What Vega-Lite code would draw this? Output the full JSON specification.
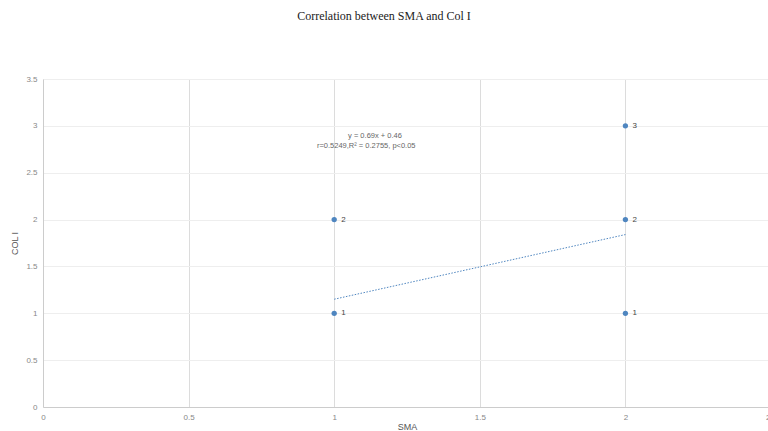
{
  "$schema": "https://vega.github.io/schema/vega-lite/v6.json",
  "autosize": "none",
  "width": 728,
  "height": 328,
  "padding": {"left": 43, "top": 79, "right": 0, "bottom": 24},
  "background": "white",
  "title": {
    "text": "Correlation between SMA and Col I",
    "font": "Liberation Serif",
    "fontSize": 12,
    "fontWeight": "normal",
    "color": "#222",
    "anchor": "middle",
    "dx": -23,
    "offset": 52
  },
  "config": {
    "view": {"stroke": null},
    "axis": {
      "labelFont": "Liberation Sans",
      "labelFontSize": 8,
      "labelColor": "#888",
      "titleFont": "Liberation Sans",
      "titleFontSize": 9,
      "titleFontWeight": "normal",
      "titleColor": "#555",
      "domainColor": "#ccc",
      "ticks": false,
      "format": "~g"
    }
  },
  "datasets": {
    "points": [
      {"sma": 1, "col": 1, "label": "1"},
      {"sma": 1, "col": 2, "label": "2"},
      {"sma": 2, "col": 1, "label": "1"},
      {"sma": 2, "col": 2, "label": "2"},
      {"sma": 2, "col": 3, "label": "3"}
    ],
    "trend": [
      {"sma": 1, "col": 1.15},
      {"sma": 2, "col": 1.84}
    ],
    "notes": [
      {"sma": 1.14, "col": 2.89, "text": "y = 0.69x + 0.46"},
      {"sma": 1.11, "col": 2.78, "text": "r=0.5249,R² = 0.2755, p<0.05"}
    ]
  },
  "layer": [
    {
      "data": {"name": "points"},
      "mark": {"type": "point", "filled": true, "size": 28, "color": "#4f86c0", "opacity": 1},
      "encoding": {
        "x": {
          "field": "sma", "type": "quantitative", "title": "SMA",
          "scale": {"domain": [0, 2.5], "nice": false},
          "axis": {"values": [0, 0.5, 1, 1.5, 2, 2.5], "gridColor": "#dcdcdc", "labelPadding": 6, "titlePadding": 1, "labelFlush": false, "format": "~g"}
        },
        "y": {
          "field": "col", "type": "quantitative", "title": "COL I",
          "scale": {"domain": [0, 3.5], "nice": false},
          "axis": {"values": [0, 0.5, 1, 1.5, 2, 2.5, 3, 3.5], "gridColor": "#eeeeee", "labelPadding": 6, "titlePadding": 6, "format": "~g"}
        }
      }
    },
    {
      "data": {"name": "points"},
      "mark": {"type": "text", "align": "left", "dx": 7, "fontSize": 8, "font": "Liberation Sans", "color": "#444"},
      "encoding": {
        "x": {"field": "sma", "type": "quantitative"},
        "y": {"field": "col", "type": "quantitative"},
        "text": {"field": "label"}
      }
    },
    {
      "data": {"name": "trend"},
      "mark": {"type": "line", "color": "#4f86c0", "strokeDash": [1.5, 1.5], "strokeWidth": 1},
      "encoding": {
        "x": {"field": "sma", "type": "quantitative"},
        "y": {"field": "col", "type": "quantitative"}
      }
    },
    {
      "data": {"name": "notes"},
      "mark": {"type": "text", "align": "center", "fontSize": 7.5, "font": "Liberation Sans", "color": "#666"},
      "encoding": {
        "x": {"field": "sma", "type": "quantitative"},
        "y": {"field": "col", "type": "quantitative"},
        "text": {"field": "text"}
      }
    }
  ]
}
